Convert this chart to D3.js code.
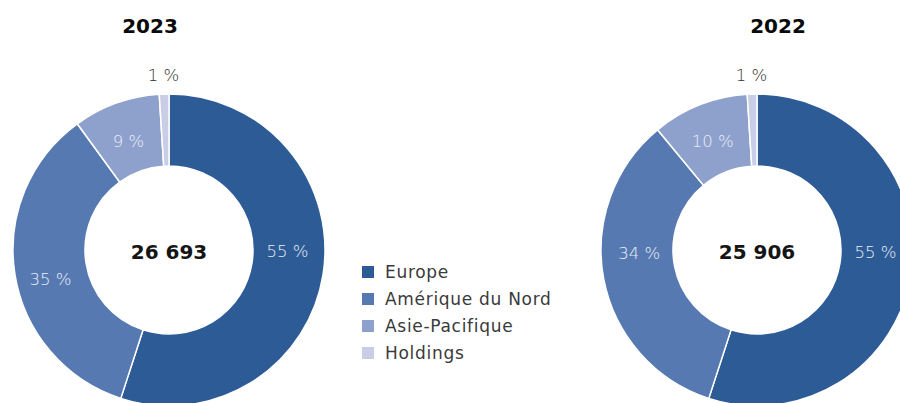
<!DOCTYPE html>
<html>
<head>
<meta charset="utf-8">
<script src="https://cdn.jsdelivr.net/npm/d3@7"></script>
<style>
  html, body { margin: 0; padding: 0; background: #ffffff; }
  svg { display: block; font-family: "DejaVu Sans", "Noto Sans", sans-serif; }
</style>
</head>
<body>
<svg id="chart" width="900" height="403"></svg>
<script>
// Regions and their share of revenue (%), per year
const regions = ["Europe", "Amérique du Nord", "Asie-Pacifique", "Holdings"];
const years = ["2023", "2022"];
const totals = ["26 693", "25 906"];
const shares2023 = [55, 35, 9, 1];
const shares2022 = [55, 34, 10, 1];
const regionColors = ["#2d5b96", "#5679b1", "#8ea1cd", "#c9cee6"];

const svg = d3.select("#chart");

const color = d3.scaleOrdinal().domain(regions).range(regionColors);

const outerR = 156, innerR = 84;
const arc = d3.arc().innerRadius(innerR).outerRadius(outerR);
const labelArc = d3.arc().innerRadius((innerR + outerR) / 2).outerRadius((innerR + outerR) / 2);
const outsideArc = d3.arc().innerRadius(outerR + 19).outerRadius(outerR + 19);
const pie = d3.pie().sort(null).value(d => d.value);

// Layout of each donut; labelDy lifts/lowers the in-ring labels for readability
const donuts = [
  { year: years[0], total: totals[0], shares: shares2023, cx: 169, cy: 250, titleX: 150, labelDy: [-17, 11, 4, 0] },
  { year: years[1], total: totals[1], shares: shares2022, cx: 757, cy: 250, titleX: 778, labelDy: [-16, -19, 3, 0] }
];

donuts.forEach(dn => {
  const data = regions.map((r, i) => ({ region: r, value: dn.shares[i] }));
  const arcs = pie(data);

  svg.append("text")
    .attr("x", dn.titleX).attr("y", 33)
    .attr("text-anchor", "middle")
    .attr("font-size", 20).attr("font-weight", 700)
    .attr("fill", "#0a0a0a")
    .text(dn.year);

  const g = svg.append("g").attr("transform", `translate(${dn.cx},${dn.cy})`);

  g.selectAll("path.slice")
    .data(arcs)
    .join("path")
    .attr("class", "slice")
    .attr("d", arc)
    .attr("fill", d => color(d.data.region))
    .attr("stroke", "#ffffff")
    .attr("stroke-width", 1.5);

  // Percentage labels: inside the ring for large slices, outside for tiny ones
  g.selectAll("text.pct")
    .data(arcs)
    .join("text")
    .attr("class", "pct")
    .attr("transform", (d, i) => {
      const small = d.data.value < 3;
      const [x, y] = (small ? outsideArc : labelArc).centroid(d);
      return `translate(${x},${y + dn.labelDy[i]})`;
    })
    .attr("text-anchor", "middle")
    .attr("dominant-baseline", "central")
    .attr("font-size", 16.5)
    .attr("font-weight", 300)
    .attr("fill", d => d.data.value < 3 ? "#333333" : "#e9eef7")
    .text(d => `${d.data.value} %`);

  g.append("text")
    .attr("x", 0).attr("y", 9)
    .attr("text-anchor", "middle")
    .attr("font-size", 20).attr("font-weight", 700)
    .attr("fill", "#151515")
    .text(dn.total);
});

// Legend
const legend = svg.append("g").attr("transform", "translate(362,272)");
const rowH = 27;
const item = legend.selectAll("g.item")
  .data(regions)
  .join("g")
  .attr("class", "item")
  .attr("transform", (d, i) => `translate(0,${i * rowH})`);

item.append("rect")
  .attr("x", 0).attr("y", -6)
  .attr("width", 12).attr("height", 12)
  .attr("fill", d => color(d));

item.append("text")
  .attr("x", 23).attr("y", 0)
  .attr("dominant-baseline", "central")
  .attr("font-size", 17)
  .attr("letter-spacing", 0.7)
  .attr("fill", "#3a3a3a")
  .text(d => d);
</script>
</body>
</html>
